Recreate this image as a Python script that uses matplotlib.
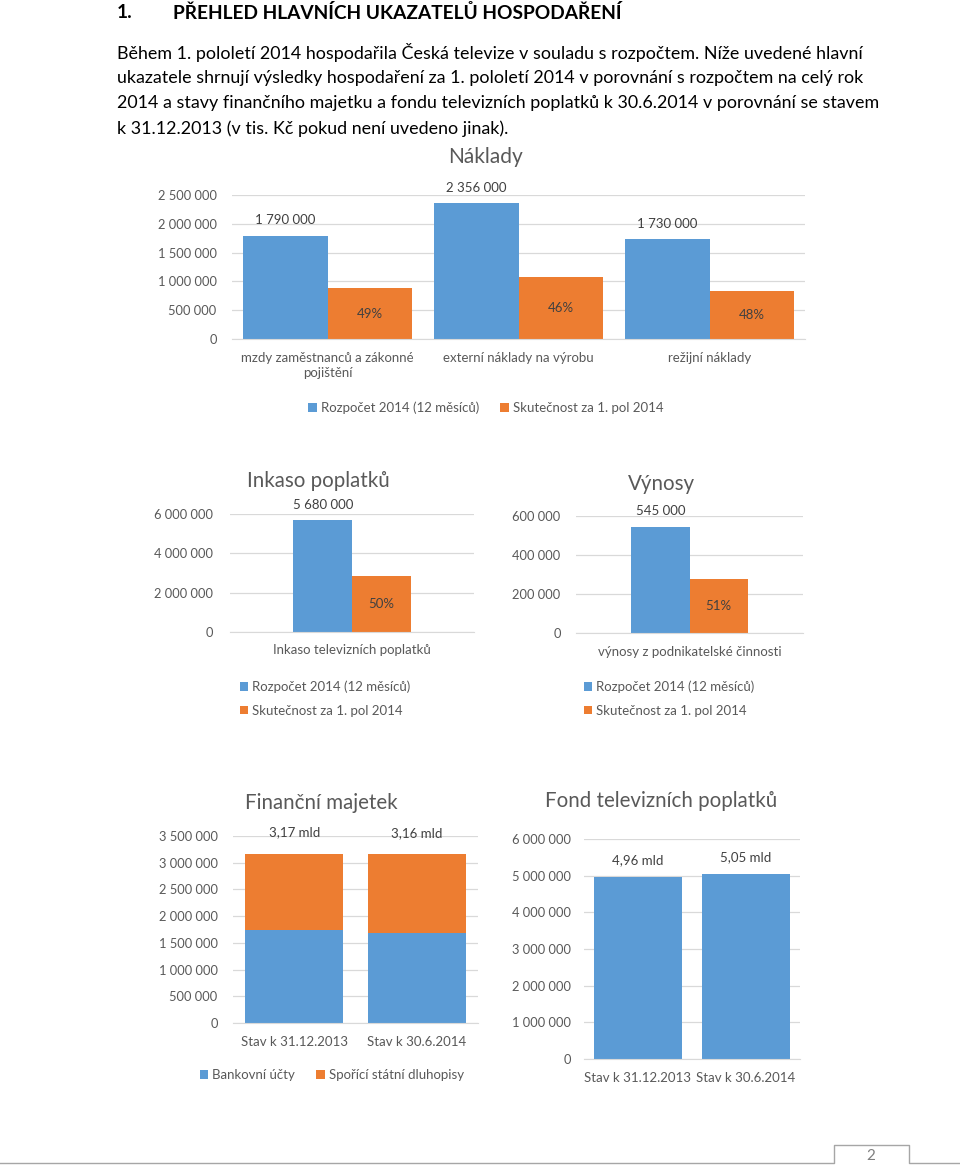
import numpy as np
import matplotlib
matplotlib.use('Agg')
import matplotlib.pyplot as plt
from matplotlib.ticker import FuncFormatter
from matplotlib.lines import Line2D
from matplotlib.patches import Patch

plt.rcParams['font.family'] = ['Lato', 'DejaVu Sans']

BLUE = '#5B9BD5'
ORANGE = '#ED7D31'
GRID = '#D9D9D9'
TICK = '#595959'
LABEL = '#404040'

# --- data ---
nakl_cats = ['mzdy zaměstnanců a zákonné\npojištění', 'externí náklady na výrobu', 'režijní náklady']
nakl_budget = [1790000, 2356000, 1730000]
nakl_actual = [877000, 1084000, 830000]
nakl_budget_lbl = ['1 790 000', '2 356 000', '1 730 000']
nakl_actual_lbl = ['49%', '46%', '48%']

ink_cat = ['Inkaso televizních poplatků']
ink_budget = [5680000]
ink_actual = [2840000]
ink_budget_lbl = ['5 680 000']
ink_actual_lbl = ['50%']

vyn_cat = ['výnosy z podnikatelské činnosti']
vyn_budget = [545000]
vyn_actual = [278000]
vyn_budget_lbl = ['545 000']
vyn_actual_lbl = ['51%']

fin_cats = ['Stav k 31.12.2013', 'Stav k 30.6.2014']
fin_bank = [1750000, 1680000]
fin_bonds = [1420000, 1480000]
fin_lbl = ['3,17 mld', '3,16 mld']

fond_cats = ['Stav k 31.12.2013', 'Stav k 30.6.2014']
fond_vals = [4960000, 5050000]
fond_lbl = ['4,96 mld', '5,05 mld']

leg_budget = 'Rozpočet 2014 (12 měsíců)'
leg_actual = 'Skutečnost za 1. pol 2014'

W, H = 960, 1165
fig = plt.figure(figsize=(W / 100, H / 100), dpi=100)


def px_axes(x0, y0, x1, y1):
    return fig.add_axes([x0 / W, 1 - y1 / H, (x1 - x0) / W, (y1 - y0) / H])


def ftext(x, y, s, **kw):
    kw.setdefault('ha', 'left')
    kw.setdefault('va', 'center')
    return fig.text(x / W, 1 - y / H, s, **kw)


def style(ax, ymax, step, pad):
    ax.set_ylim(0, ymax)
    ax.set_yticks(np.arange(0, ymax + 1, step))
    ax.yaxis.set_major_formatter(FuncFormatter(lambda v, p: f"{v:,.0f}".replace(",", " ")))
    ax.grid(axis='y', color=GRID, lw=0.9)
    ax.set_axisbelow(True)
    for s in ax.spines.values():
        s.set_visible(False)
    ax.spines['bottom'].set_visible(True)
    ax.spines['bottom'].set_color(GRID)
    ax.tick_params(axis='y', length=0, labelsize=9.3, colors=TICK, pad=pad)
    ax.tick_params(axis='x', length=0, labelsize=9.5, colors=TICK, pad=9)
    ax.patch.set_alpha(0)


def sq(c):
    return Patch(facecolor=c, edgecolor='none')


# --- heading and paragraph ---
ftext(117, 13, '1.', fontsize=13.8, fontweight='bold')
ftext(173, 13, 'PŘEHLED HLAVNÍCH UKAZATELŮ HOSPODAŘENÍ', fontsize=13.8, fontweight='bold')
para = ['Během 1. pololetí 2014 hospodařila Česká televize v souladu s rozpočtem. Níže uvedené hlavní',
        'ukazatele shrnují výsledky hospodaření za 1. pololetí 2014 v porovnání s rozpočtem na celý rok',
        '2014 a stavy finančního majetku a fondu televizních poplatků k 30.6.2014 v porovnání se stavem',
        'k 31.12.2013 (v tis. Kč pokud není uvedeno jinak).']
for i, line in enumerate(para):
    ftext(117, 52 + i * 25.7, line, fontsize=12.9)

# --- Náklady ---
ax = px_axes(232, 195, 805, 339)
x = np.arange(len(nakl_cats))
b1 = ax.bar(x - 0.22, nakl_budget, 0.44, color=BLUE)
b2 = ax.bar(x + 0.22, nakl_actual, 0.44, color=ORANGE)
ax.set_xlim(-0.5, 2.5)
style(ax, 2500000, 500000, 11)
ax.set_xticks(x)
ax.set_xticklabels(nakl_cats, linespacing=1.35, va='top')
ax.bar_label(b1, labels=nakl_budget_lbl, padding=7, fontsize=9.5, color=LABEL)
ax.bar_label(b2, labels=nakl_actual_lbl, label_type='center', fontsize=9.5, color=LABEL)
ftext(486, 157, 'Náklady', ha='center', fontsize=15, color=TICK)
fig.legend([sq(BLUE), sq(ORANGE)], [leg_budget, leg_actual], ncol=2, frameon=False,
           loc='center', bbox_to_anchor=(486 / W, 1 - 408 / H), fontsize=9.5,
           handlelength=0.65, handleheight=0.65, handletextpad=0.3, columnspacing=1.6,
           labelcolor=TICK)

# --- Inkaso poplatků ---
ax = px_axes(230, 514, 474, 632)
b1 = ax.bar([-0.12], ink_budget, 0.24, color=BLUE)
b2 = ax.bar([0.12], ink_actual, 0.24, color=ORANGE)
ax.set_xlim(-0.5, 0.5)
style(ax, 6000000, 2000000, 12)
ax.set_xticks([0])
ax.set_xticklabels(ink_cat)
ax.bar_label(b1, labels=ink_budget_lbl, padding=7, fontsize=9.5, color=LABEL)
ax.bar_label(b2, labels=ink_actual_lbl, label_type='center', fontsize=9.5, color=LABEL)
ftext(318, 481, 'Inkaso poplatků', ha='center', fontsize=14.8, color=TICK)
fig.legend([sq(BLUE), sq(ORANGE)], [leg_budget, leg_actual], ncol=1, frameon=False,
           loc='center left', bbox_to_anchor=(228 / W, 1 - 698.5 / H), fontsize=9.5,
           handlelength=0.65, handleheight=0.65, handletextpad=0.3, labelspacing=0.9,
           labelcolor=TICK)

# --- Výnosy ---
ax = px_axes(576, 516, 803, 633)
b1 = ax.bar([-0.128], vyn_budget, 0.256, color=BLUE)
b2 = ax.bar([0.128], vyn_actual, 0.256, color=ORANGE)
ax.set_xlim(-0.5, 0.5)
style(ax, 600000, 200000, 11)
ax.set_xticks([0])
ax.set_xticklabels(vyn_cat)
ax.bar_label(b1, labels=vyn_budget_lbl, padding=7, fontsize=9.5, color=LABEL)
ax.bar_label(b2, labels=vyn_actual_lbl, label_type='center', fontsize=9.5, color=LABEL)
ftext(661, 484, 'Výnosy', ha='center', fontsize=14.8, color=TICK)
fig.legend([sq(BLUE), sq(ORANGE)], [leg_budget, leg_actual], ncol=1, frameon=False,
           loc='center left', bbox_to_anchor=(572 / W, 1 - 698.5 / H), fontsize=9.5,
           handlelength=0.65, handleheight=0.65, handletextpad=0.3, labelspacing=0.9,
           labelcolor=TICK)

# --- Finanční majetek ---
ax = px_axes(233, 836, 478, 1023)
x = np.arange(len(fin_cats))
b1 = ax.bar(x, fin_bank, 0.8, color=BLUE)
b2 = ax.bar(x, fin_bonds, 0.8, bottom=fin_bank, color=ORANGE)
ax.set_xlim(-0.5, 1.5)
style(ax, 3500000, 500000, 11)
ax.set_xticks(x)
ax.set_xticklabels(fin_cats)
ax.bar_label(b2, labels=fin_lbl, padding=11, fontsize=9.5, color=LABEL)
ftext(321, 803, 'Finanční majetek', ha='center', fontsize=14.8, color=TICK)
fig.legend([sq(BLUE), sq(ORANGE)], ['Bankovní účty', 'Spořící státní dluhopisy'], ncol=2,
           frameon=False, loc='center left', bbox_to_anchor=(188 / W, 1 - 1075 / H), fontsize=9.5,
           handlelength=0.65, handleheight=0.65, handletextpad=0.3, columnspacing=1.6,
           labelcolor=TICK)

# --- Fond televizních poplatků ---
ax = px_axes(584, 839, 800, 1059)
x = np.arange(len(fond_cats))
b1 = ax.bar(x, fond_vals, 0.81, color=BLUE)
ax.set_xlim(-0.5, 1.5)
style(ax, 6000000, 1000000, 9)
ax.set_xticks(x)
ax.set_xticklabels(fond_cats)
ax.bar_label(b1, labels=fond_lbl, padding=8, fontsize=9.5, color=LABEL)
ftext(661, 801, 'Fond televizních poplatků', ha='center', fontsize=14.8, color=TICK)

# --- page number tab ---
pc = '#A6A6A6'
fig.add_artist(Line2D(np.array([0, 834, 834, 909, 909, 960]) / W,
                      1 - np.array([1163, 1163, 1145, 1145, 1163, 1163]) / H, color=pc, lw=1))
ftext(871, 1156, '2', ha='center', fontsize=11, color='#7F7F7F')

fig.savefig('out.png', dpi=100)
